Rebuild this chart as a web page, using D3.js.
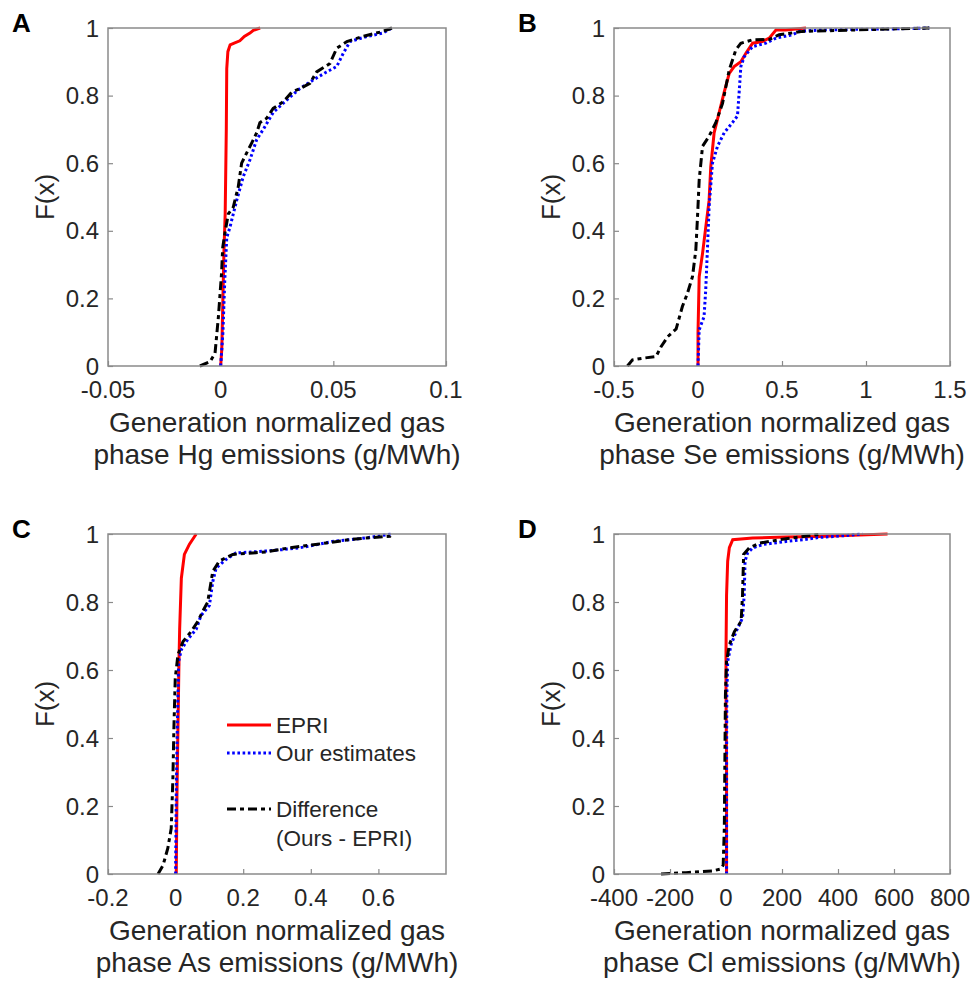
<!DOCTYPE html>
<html>
<head>
<meta charset="utf-8">
<script src="https://cdn.jsdelivr.net/npm/d3@7"></script>
<style>
  body { margin: 0; background: #fff; }
  svg { display: block; font-family: "Liberation Sans", Arial, sans-serif; }
</style>
</head>
<body>
<svg id="chart" width="976" height="983"></svg>
<script>
// F(x) curves, as [x, F] pairs
const hgEpri = [[0,0],[0.0005,0.05],[0.001,0.2],[0.0015,0.35],[0.002,0.45],[0.0025,0.7],[0.0027,0.88],[0.0032,0.93],[0.0042,0.95],[0.006,0.955],[0.0085,0.962],[0.0105,0.975],[0.013,0.985],[0.0145,0.993],[0.0175,1]];
const hgOurs = [[0,0],[0.001,0.1],[0.0018,0.25],[0.0027,0.38],[0.0041,0.41],[0.0071,0.49],[0.010,0.56],[0.013,0.61],[0.016,0.67],[0.0189,0.70],[0.0233,0.75],[0.0293,0.787],[0.035,0.82],[0.041,0.846],[0.047,0.87],[0.0515,0.886],[0.0544,0.925],[0.0574,0.96],[0.065,0.975],[0.072,0.985],[0.076,1]];
const hgDiff = [[-0.0092,0],[-0.0047,0.013],[-0.0025,0.038],[-0.001,0.146],[0.0004,0.275],[0.0009,0.35],[0.0018,0.39],[0.0034,0.45],[0.0056,0.47],[0.0078,0.53],[0.0093,0.60],[0.0115,0.63],[0.0138,0.66],[0.016,0.69],[0.0174,0.72],[0.0204,0.733],[0.0233,0.762],[0.0278,0.782],[0.0315,0.81],[0.035,0.82],[0.0396,0.836],[0.0426,0.87],[0.0485,0.895],[0.0515,0.94],[0.056,0.96],[0.063,0.975],[0.072,0.99],[0.076,1]];

const seEpri = [[0,0],[0,0.097],[0.007,0.264],[0.027,0.333],[0.046,0.41],[0.066,0.49],[0.076,0.59],[0.096,0.69],[0.126,0.75],[0.156,0.81],[0.186,0.866],[0.215,0.886],[0.255,0.90],[0.285,0.925],[0.325,0.955],[0.384,0.96],[0.424,0.97],[0.464,0.994],[0.523,0.994],[0.643,1]];
const seOurs = [[0,0],[0.007,0.107],[0.036,0.146],[0.046,0.225],[0.056,0.343],[0.066,0.47],[0.086,0.60],[0.116,0.65],[0.156,0.69],[0.205,0.72],[0.235,0.74],[0.245,0.81],[0.255,0.886],[0.275,0.915],[0.325,0.945],[0.404,0.955],[0.464,0.97],[0.563,0.98],[0.603,0.99],[0.722,0.994],[0.92,0.996],[1.12,0.997],[1.377,1]];
const seDiff = [[-0.42,0],[-0.39,0.018],[-0.33,0.023],[-0.25,0.028],[-0.22,0.057],[-0.18,0.087],[-0.13,0.11],[-0.093,0.176],[-0.063,0.215],[-0.033,0.264],[-0.013,0.343],[-0.003,0.44],[0.007,0.55],[0.027,0.65],[0.066,0.68],[0.106,0.72],[0.146,0.777],[0.186,0.876],[0.225,0.935],[0.255,0.955],[0.325,0.965],[0.424,0.966],[0.483,0.98],[0.623,0.99],[0.92,0.994],[1.377,1]];

const asEpri = [[0.002,0],[0.004,0.23],[0.007,0.43],[0.010,0.625],[0.012,0.72],[0.017,0.87],[0.026,0.94],[0.041,0.97],[0.061,1]];
const asOurs = [[0,0],[0.002,0.23],[0.005,0.43],[0.009,0.625],[0.017,0.66],[0.036,0.69],[0.061,0.72],[0.075,0.76],[0.10,0.79],[0.11,0.86],[0.12,0.90],[0.149,0.925],[0.178,0.944],[0.267,0.95],[0.316,0.954],[0.365,0.959],[0.424,0.97],[0.463,0.978],[0.512,0.983],[0.56,0.988],[0.639,1]];
const asDiff = [[-0.052,0],[-0.037,0.026],[-0.023,0.076],[-0.013,0.134],[-0.008,0.28],[-0.005,0.43],[-0.001,0.576],[0.007,0.645],[0.022,0.684],[0.046,0.713],[0.066,0.743],[0.08,0.772],[0.095,0.80],[0.11,0.89],[0.129,0.92],[0.169,0.94],[0.267,0.947],[0.335,0.959],[0.414,0.969],[0.512,0.983],[0.56,0.988],[0.634,0.993],[0.639,1]];

const clEpri = [[2,0],[2,0.33],[0,0.527],[0,0.655],[2,0.82],[6,0.92],[12,0.96],[24,0.983],[95,0.988],[214,0.991],[333,0.993],[452,0.996],[577,1]];
const clOurs = [[2,0],[2,0.33],[3,0.527],[6,0.625],[18,0.674],[36,0.713],[59,0.753],[65,0.82],[68,0.92],[77,0.944],[95,0.959],[131,0.969],[214,0.978],[274,0.983],[333,0.99],[392,0.993],[487,1]];
const clDiff = [[-232,0],[-143,0.004],[-48,0.009],[-18,0.015],[-10,0.026],[-6,0.134],[-4,0.33],[-2,0.527],[2,0.625],[12,0.674],[30,0.713],[54,0.743],[59,0.82],[63,0.94],[83,0.959],[119,0.973],[190,0.983],[250,0.99],[309,0.996],[339,1]];

const yTicks = [0, 0.2, 0.4, 0.6, 0.8, 1];
const hgTicks = [-0.05, 0, 0.05, 0.1];
const seTicks = [-0.5, 0, 0.5, 1, 1.5];
const asTicks = [-0.2, 0, 0.2, 0.4, 0.6];
const clTicks = [-400, -200, 0, 200, 400, 600, 800];

const panels = [
  { letter: 'A', left: 108, top: 28, width: 338, height: 338, domain: [-0.05, 0.1], ticks: hgTicks, element: 'Hg', series: [hgEpri, hgOurs, hgDiff] },
  { letter: 'B', left: 614, top: 28, width: 336, height: 338, domain: [-0.5, 1.5], ticks: seTicks, element: 'Se', series: [seEpri, seOurs, seDiff] },
  { letter: 'C', left: 108, top: 534, width: 338, height: 340, domain: [-0.2, 0.8], ticks: asTicks, element: 'As', series: [asEpri, asOurs, asDiff], legend: true },
  { letter: 'D', left: 614, top: 534, width: 336, height: 340, domain: [-400, 800], ticks: clTicks, element: 'Cl', series: [clEpri, clOurs, clDiff] }
];

const styles = [
  { color: '#ff0000', dash: null },
  { color: '#0000ff', dash: '2.6,2.6' },
  { color: '#000000', dash: '9,4,4,4' }
];

const TEXT = '#262626';
const svg = d3.select('#chart');

function drawPanel(p) {
  const g = svg.append('g').attr('transform', `translate(${p.left},${p.top})`);
  const x = d3.scaleLinear().domain(p.domain).range([0, p.width]);
  const y = d3.scaleLinear().domain([0, 1]).range([p.height, 0]);

  // ticks point inward, MATLAB style
  const xAxis = d3.axisTop(x).tickValues(p.ticks).tickSize(5).tickFormat('');
  const yAxis = d3.axisRight(y).tickValues(yTicks).tickSize(5).tickFormat('');
  g.append('g').attr('transform', `translate(0,${p.height})`).call(xAxis)
    .call((s) => s.select('.domain').remove());
  g.append('g').call(yAxis).call((s) => s.select('.domain').remove());
  g.selectAll('.tick line').attr('stroke', '#8a8a8a').attr('stroke-width', 1.2);

  g.selectAll('.xlab').data(p.ticks).enter().append('text')
    .attr('x', (d) => x(d)).attr('y', p.height + 32)
    .attr('text-anchor', 'middle').attr('font-size', 24).attr('fill', TEXT)
    .text(String);
  g.selectAll('.ylab').data(yTicks).enter().append('text')
    .attr('x', -9).attr('y', (d) => y(d) + 8.5)
    .attr('text-anchor', 'end').attr('font-size', 24).attr('fill', TEXT)
    .text(String);

  const line = d3.line().x((d) => x(d[0])).y((d) => y(d[1]));
  p.series.forEach((data, i) => {
    g.append('path').datum(data)
      .attr('d', line).attr('fill', 'none')
      .attr('stroke', styles[i].color).attr('stroke-width', 3)
      .attr('stroke-dasharray', styles[i].dash);
  });

  g.append('rect').attr('width', p.width).attr('height', p.height)
    .attr('fill', 'none').attr('stroke', '#8a8a8a').attr('stroke-width', 1.5);

  g.append('text')
    .attr('transform', `translate(-63,${p.height / 2}) rotate(-90)`)
    .attr('text-anchor', 'middle').attr('dy', '0.35em')
    .attr('font-size', 26).attr('fill', TEXT).text('F(x)');

  const xl = g.append('text').attr('text-anchor', 'middle').attr('font-size', 28).attr('fill', TEXT);
  xl.append('tspan').attr('x', p.width / 2).attr('y', p.height + 66).text('Generation normalized gas');
  xl.append('tspan').attr('x', p.width / 2).attr('y', p.height + 98).text(`phase ${p.element} emissions (g/MWh)`);

  svg.append('text').attr('x', p.left - 96).attr('y', p.top + 4)
    .attr('font-size', 26).attr('font-weight', 'bold').attr('fill', '#000')
    .text(p.letter);

  if (p.legend) drawLegend(g);
}

function drawLegend(g) {
  const rows = [
    { label: ['EPRI'], y: 191 },
    { label: ['Our estimates'], y: 219 },
    { label: ['Difference', '(Ours - EPRI)'], y: 275 }
  ];
  rows.forEach((r, i) => {
    g.append('line').attr('x1', 119).attr('x2', 163).attr('y1', r.y).attr('y2', r.y)
      .attr('stroke', styles[i].color).attr('stroke-width', 3)
      .attr('stroke-dasharray', styles[i].dash);
    r.label.forEach((t, j) => {
      g.append('text').attr('x', 168).attr('y', r.y + 8 + j * 29)
        .attr('font-size', 22.5).attr('fill', TEXT).text(t);
    });
  });
}

panels.forEach(drawPanel);
</script>
</body>
</html>
